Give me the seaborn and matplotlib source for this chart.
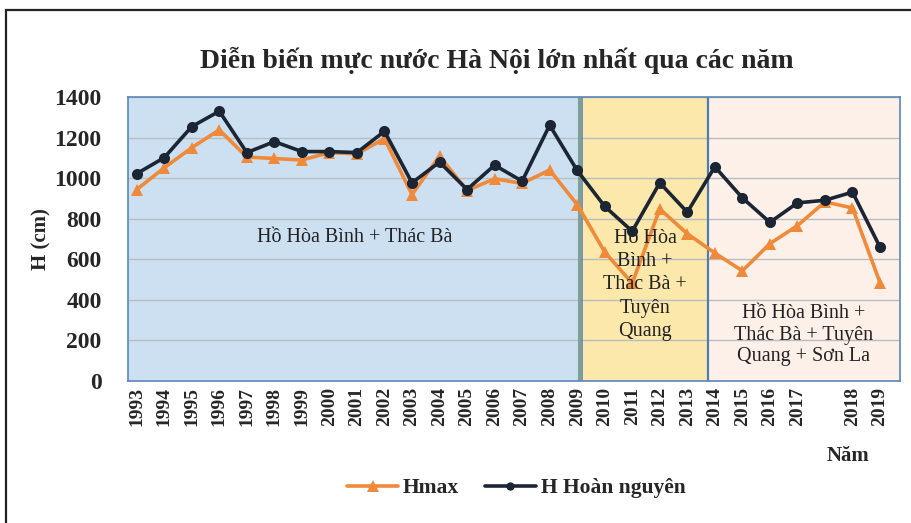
import matplotlib
matplotlib.use("Agg")
import matplotlib.pyplot as plt
import seaborn as sns
import pandas as pd
from matplotlib.lines import Line2D
from matplotlib.patches import Rectangle

# ---- data ----
year_labels = ["1993", "1994", "1995", "1996", "1997", "1998", "1999", "2000",
               "2001", "2002", "2003", "2004", "2005", "2006", "2007", "2008",
               "2009", "2010", "2011", "2012", "2013", "2014", "2015", "2016",
               "2017", "", "2018", "2019"]
hmax = [944, 1051, 1150, 1238, 1104, 1097, 1089, 1126, 1120, 1195, 919, 1109,
        939, 997, 974, 1040, 870, 636, 482, 848, 726, 631, 543, 677, 766, 883,
        853, 485]
h_hoan_nguyen = [1022, 1101, 1254, 1330, 1126, 1180, 1131, 1131, 1126, 1231,
                 977, 1079, 944, 1064, 985, 1261, 1038, 861, 738, 977, 832,
                 1056, 903, 782, 878, 891, 931, 660]
series_names = ["Hmax", "H Hoàn nguyên"]
region_texts = ["Hồ Hòa Bình + Thác Bà",
                "Hồ Hòa\nBình +\nThác Bà +\nTuyên\nQuang",
                "Hồ Hòa Bình +\nThác Bà + Tuyên\nQuang + Sơn La"]
title = "Diễn biến mực nước Hà Nội lớn nhất qua các năm"

sns.set_style("white")
plt.rcParams["font.family"] = ["Liberation Serif", "DejaVu Serif"]

idx = list(range(len(year_labels)))
df = pd.DataFrame({
    "idx": idx * 2,
    "H": hmax + h_hoan_nguyen,
    "series": [series_names[0]] * len(idx) + [series_names[1]] * len(idx),
})

W, H = 911, 523
fig = plt.figure(figsize=(W / 100, H / 100), dpi=100)
ax = fig.add_axes([128 / W, 1 - 381 / H, (900 - 128) / W, (381 - 97) / H])

c_orange = "#EF8A3A"
c_black = "#1B2533"
palette = {series_names[0]: c_orange, series_names[1]: c_black}
markers = {series_names[0]: "^", series_names[1]: "o"}

sns.lineplot(data=df, x="idx", y="H", hue="series", style="series",
             palette=palette, markers=markers, dashes=False, linewidth=2.6,
             markersize=8, markeredgewidth=0, ax=ax, legend=False, zorder=3)

# x scale: first point at px 136.7, step 27.53 px
step = 27.53
x0 = -(136.7 - 128) / step
x1 = 27 + (900 - 880) / step
ax.set_xlim(x0, x1)
ax.set_ylim(0, 1400)

def px2x(px):
    return (px - 136.7) / step

b1 = px2x(579.5)
b2 = px2x(708.3)
ax.axvspan(x0, b1, color="#CCE0F2", zorder=0, lw=0)
ax.axvspan(b1 + 0.08, b2, color="#FBE8AA", zorder=0, lw=0)
ax.axvspan(b2, x1, color="#FDF0E9", zorder=0, lw=0)
ax.axvline(b1, color="#7FA08A", lw=2.2, zorder=1)
ax.axvline(b1 + 0.08, color="#5B86B8", lw=1.2, zorder=1)
ax.axvline(b2, color="#4F7DB3", lw=1.6, zorder=1)

ax.set_yticks(range(0, 1401, 200))
ax.yaxis.grid(True, color="#B9BDC2", lw=1.0)
ax.set_axisbelow(True)
ax.set_xticks(idx)
ax.set_xticklabels(year_labels, rotation=90, fontsize=14, fontweight="bold")
for lbl in ax.get_yticklabels():
    lbl.set_fontsize(17)
    lbl.set_fontweight("bold")
ax.tick_params(axis="both", length=0, pad=4)
ax.tick_params(axis="y", pad=19)
ax.set_xlabel("")
ax.set_ylabel("H (cm)", fontsize=15, fontweight="bold", labelpad=2)
for s in ax.spines.values():
    s.set_color("#5B86B8")
    s.set_linewidth(1.2)

ax.text(px2x(355), 706, region_texts[0], ha="center", va="center", fontsize=14.5, color="#222222")
ax.text(px2x(645), 474, region_texts[1], ha="center", va="center", fontsize=14.5, color="#222222", linespacing=1.3)
ax.text(px2x(804), 226, region_texts[2], ha="center", va="center", fontsize=14.5, color="#222222", linespacing=1.2)

fig.text(497 / W, 1 - 60 / H, title, ha="center", va="center", fontsize=20, fontweight="bold")
fig.text(848 / W, 1 - 456 / H, "Năm", ha="center", va="center", fontsize=15, fontweight="bold")

handles = [Line2D([], [], color=c_orange, marker="^", lw=2.6, markersize=9, markeredgewidth=0),
           Line2D([], [], color=c_black, marker="o", lw=2.6, markersize=6, markeredgewidth=0)]
leg = fig.legend(handles, series_names, loc="center", bbox_to_anchor=(516 / W, 1 - 488 / H),
                 ncol=2, frameon=False, handlelength=2.4, handletextpad=0.2, columnspacing=1.2,
                 prop={"weight": "bold", "size": 15.5})

# outer frame
fig.patches.append(Rectangle((6 / W, -0.05), 1.2, 1 - 10 / H + 0.05, transform=fig.transFigure,
                             fill=False, edgecolor="#222222", lw=1.6))

fig.savefig("out.png", dpi=100)
